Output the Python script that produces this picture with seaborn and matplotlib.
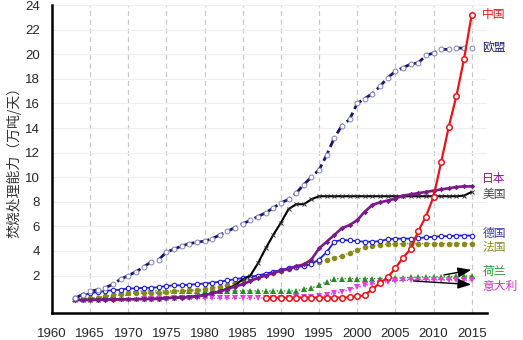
import numpy as np
import pandas as pd
import matplotlib
matplotlib.use("Agg")
import matplotlib.pyplot as plt
import seaborn as sns

# Incineration capacity (10k tonnes / day) by year
years_full = list(range(1963, 2016))

eu = [0.15, 0.45, 0.7, 0.85, 1.0, 1.3, 1.7, 2.0, 2.3, 2.7, 3.1, 3.3, 3.9, 4.15, 4.4, 4.6,
      4.7, 4.8, 5.0, 5.3, 5.6, 5.9, 6.2, 6.5, 6.8, 7.1, 7.5, 7.9, 8.2, 8.7, 9.4, 10.0,
      10.6, 11.8, 13.2, 14.2, 14.7, 16.0, 16.4, 16.8, 17.4, 18.1, 18.6, 18.9, 19.2, 19.3,
      19.9, 20.1, 20.4, 20.4, 20.5, 20.5, 20.5]

germany = [0.2, 0.4, 0.55, 0.65, 0.75, 0.8, 0.85, 0.95, 0.95, 1.0, 1.0, 1.05, 1.15, 1.2,
           1.2, 1.25, 1.3, 1.35, 1.4, 1.5, 1.6, 1.7, 1.8, 1.9, 2.0, 2.15, 2.3, 2.45, 2.6,
           2.7, 2.75, 2.95, 3.3, 3.9, 4.75, 4.9, 4.85, 4.8, 4.75, 4.75, 4.8, 4.95, 5.0,
           5.0, 5.0, 5.05, 5.1, 5.15, 5.2, 5.2, 5.25, 5.25, 5.25]

japan = [0.0, 0.0, 0.0, 0.02, 0.03, 0.04, 0.05, 0.06, 0.07, 0.08, 0.09, 0.1, 0.15, 0.2,
         0.2, 0.25, 0.3, 0.4, 0.55, 0.7, 0.9, 1.1, 1.3, 1.55, 1.8, 2.0, 2.2, 2.4, 2.55,
         2.75, 2.9, 3.3, 4.2, 4.75, 5.3, 5.85, 6.1, 6.5, 7.2, 7.75, 7.95, 8.1, 8.25, 8.5,
         8.6, 8.7, 8.8, 8.9, 9.0, 9.1, 9.2, 9.25, 9.25]

usa = [0.02, 0.02, 0.03, 0.04, 0.05, 0.06, 0.07, 0.08, 0.09, 0.1, 0.11, 0.12, 0.17, 0.2,
       0.22, 0.27, 0.32, 0.42, 0.57, 0.72, 0.95, 1.2, 1.7, 2.0, 3.0, 4.2, 5.3, 6.3, 7.4,
       7.8, 7.8, 8.2, 8.45, 8.45, 8.45, 8.45, 8.45, 8.45, 8.45, 8.45, 8.45, 8.45, 8.45,
       8.45, 8.45, 8.45, 8.45, 8.45, 8.45, 8.45, 8.45, 8.5, 8.8]

france = [0.05, 0.1, 0.15, 0.2, 0.3, 0.4, 0.5, 0.55, 0.55, 0.6, 0.6, 0.6, 0.65, 0.7, 0.75,
          0.8, 0.85, 0.9, 1.0, 1.1, 1.25, 1.4, 1.6, 1.75, 1.9, 2.05, 2.2, 2.35, 2.5, 2.7,
          2.85, 3.0, 3.1, 3.25, 3.45, 3.6, 3.85, 4.1, 4.3, 4.4, 4.5, 4.55, 4.55, 4.6, 4.6,
          4.6, 4.6, 4.6, 4.6, 4.6, 4.6, 4.6, 4.6]

netherlands = [0.05, 0.1, 0.15, 0.2, 0.3, 0.45, 0.55, 0.6, 0.7, 0.75, 0.75, 0.75, 0.75,
               0.75, 0.75, 0.75, 0.75, 0.75, 0.75, 0.75, 0.75, 0.75, 0.75, 0.75, 0.75,
               0.75, 0.75, 0.75, 0.75, 0.75, 0.9, 1.0, 1.2, 1.5, 1.75, 1.75, 1.75, 1.75,
               1.75, 1.75, 1.75, 1.8, 1.8, 1.8, 1.85, 1.85, 1.9, 1.9, 1.9, 1.9, 1.95, 1.95,
               1.95]

years_italy = list(range(1972, 2016))
italy = [0.1, 0.1, 0.12, 0.12, 0.13, 0.13, 0.14, 0.14, 0.15, 0.15, 0.15, 0.15, 0.15, 0.15,
         0.15, 0.15, 0.2, 0.2, 0.2, 0.2, 0.22, 0.24, 0.25, 0.3, 0.4, 0.55, 0.68, 0.85,
         1.05, 1.2, 1.3, 1.4, 1.5, 1.55, 1.6, 1.63, 1.63, 1.63, 1.63, 1.63, 1.63, 1.63,
         1.63, 1.63]

years_china = list(range(1988, 2016))
china = [0.2, 0.2, 0.2, 0.2, 0.2, 0.2, 0.2, 0.2, 0.2, 0.2, 0.2, 0.22, 0.3, 0.4, 0.9, 1.4,
         1.85, 2.6, 3.45, 4.15, 5.6, 6.8, 8.4, 11.2, 14.1, 16.6, 19.6, 23.2]

labels = ["中国", "欧盟", "日本", "美国", "德国", "法国", "荷兰", "意大利"]
label_y = [23.2, 20.5, 9.9, 8.6, 5.4, 4.3, 2.3, 1.1]
label_colors = ["#e0161c", "#1c1c70", "#7a1a8a", "#4a4a4a", "#3a3aa8", "#8a8a20",
                "#2a9a2a", "#cc30cc"]

x_ticks = list(range(1960, 2016, 5))
y_ticks = list(range(0, 25, 2))

sns.set_style("white")
plt.rcParams["font.family"] = ["Liberation Sans", "Noto Sans CJK SC", "DejaVu Sans"]

fig = plt.figure(figsize=(5.23, 3.40), dpi=100)
ax = fig.add_axes([0.0994, 0.0794, 0.8316, 0.9056])

# light grid: dashed verticals, faint horizontals
for xv in x_ticks[1:]:
    ax.axvline(xv, color="#c8c8c8", lw=0.9, ls=(0, (4, 3)), zorder=0)
for yv in y_ticks[1:]:
    ax.axhline(yv, color="#efefef", lw=0.8, zorder=0)

sns.lineplot(x=years_full, y=netherlands, ax=ax, color="#2a8a2a", lw=1.0, ls=":",
             marker="^", markersize=4.5, markeredgewidth=0, zorder=3)
sns.lineplot(x=years_italy, y=italy, ax=ax, color="#e040e0", lw=1.0, ls=":",
             marker="v", markersize=4.5, markeredgewidth=0, zorder=3)
sns.lineplot(x=years_full, y=france, ax=ax, color="#8a8a1a", lw=1.0, ls=":",
             marker="o", markersize=4, markeredgewidth=0, zorder=3)
sns.lineplot(x=years_full, y=germany, ax=ax, color="#1e1ed2", lw=1.3,
             marker="o", markersize=3.2, markerfacecolor="white",
             markeredgecolor="#1e1ed2", markeredgewidth=0.8, zorder=4)
sns.lineplot(x=years_full, y=usa, ax=ax, color="black", lw=1.5,
             marker="x", markersize=3.2, markeredgecolor="#333333",
             markeredgewidth=0.7, zorder=4)
sns.lineplot(x=years_full, y=japan, ax=ax, color="#7a1a8a", lw=1.9,
             marker="D", markersize=2.8, markeredgewidth=0, zorder=5)
sns.lineplot(x=years_full, y=eu, ax=ax, color="#14146a", lw=2.0, ls=(0, (4, 1.5)),
             marker="o", markersize=3.5, markerfacecolor="white",
             markeredgecolor="#8080c0", markeredgewidth=0.7, zorder=5)
sns.lineplot(x=years_china, y=china, ax=ax, color="#e8141a", lw=1.6,
             marker="o", markersize=4.0, markerfacecolor="white",
             markeredgecolor="#e8141a", markeredgewidth=1.1, zorder=6)

# series names at the right end
for name, yv, c in zip(labels, label_y, label_colors):
    ax.text(2016.4, yv, name, color=c, fontsize=8.5, va="center", ha="left",
            family=["Noto Sans CJK SC"], clip_on=False)

# pointers for the two crowded series
ax.annotate("", xy=(2015.3, 2.5), xytext=(2011.0, 2.0),
            arrowprops=dict(arrowstyle="-|>,head_length=0.8,head_width=0.3",
                            color="black", lw=1.0), zorder=7)
ax.annotate("", xy=(2015.3, 1.25), xytext=(2007.0, 1.57),
            arrowprops=dict(arrowstyle="-|>,head_length=0.8,head_width=0.3",
                            color="black", lw=1.0), zorder=7)

ax.set_xlim(1960, 2017)
ax.set_ylim(-1.05, 24)
ax.set_xticks(x_ticks)
ax.set_xticklabels([str(v) for v in x_ticks], fontsize=9.5)
ax.set_yticks(y_ticks)
ax.set_yticklabels(["" if v == 0 else str(v) for v in y_ticks], fontsize=9.5)
ax.tick_params(axis="x", direction="out", length=6.5, width=1.5, color="black", pad=4)
ax.tick_params(axis="y", direction="out", length=6.5, width=1.5, color="black", pad=2)
ax.set_xlabel("")
ax.set_ylabel("焚烧处理能力（万吨/天）", fontsize=10, family=["Noto Sans CJK SC"],
              color="#333333", labelpad=3)

for side in ["top", "right"]:
    ax.spines[side].set_visible(False)
for side in ["left", "bottom"]:
    ax.spines[side].set_linewidth(1.8)
    ax.spines[side].set_color("black")

fig.savefig("out.png", dpi=100)
